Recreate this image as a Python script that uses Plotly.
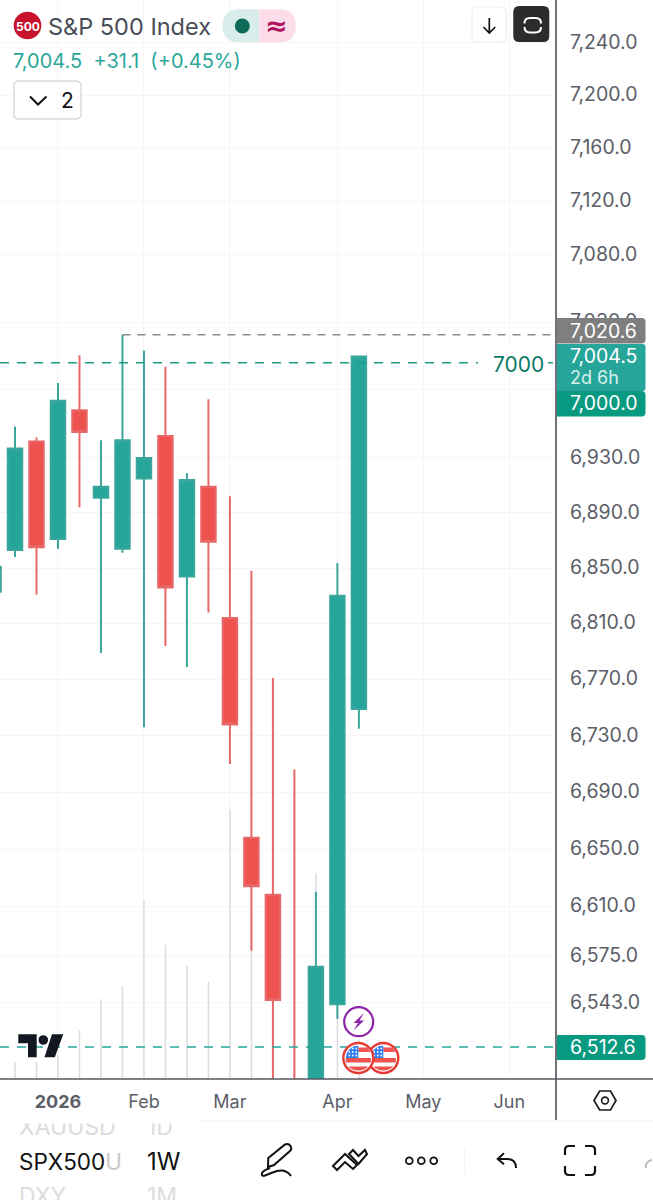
import math
import re
import plotly.graph_objects as go

# ---- data ----
week_start = ["2025-12-15", "2025-12-22", "2025-12-29", "2026-01-05", "2026-01-12", "2026-01-19",
              "2026-01-26", "2026-02-02", "2026-02-09", "2026-02-16", "2026-02-23", "2026-03-02",
              "2026-03-09", "2026-03-16", "2026-03-23", "2026-03-30", "2026-04-06", "2026-04-13"]
opens = [6833, 6863, 6942, 6871, 6965, 6901, 6864, 6915, 6946, 6844, 6909, 6814, 6658, 6618, 6480, 6370, 6542, 6749]
highs = [6870, 6953, 6945, 6985, 7005.5, 6943, 7020.6, 7009, 6997, 6919, 6973, 6902, 6848, 6771, 6706, 6620, 6853.6, 7005]
lows = [6810, 6858, 6831, 6864, 6894, 6789, 6861, 6736, 6794, 6779, 6818, 6710, 6579, 6460, 6345, 6350, 6532, 6735]
closes = [6851, 6937, 6865, 6972, 6949, 6909, 6943, 6930, 6836, 6914, 6869, 6738, 6624, 6545, 6370, 6568, 6830, 7004.5]
volumes = [0.5, 0.95, 0.95, 1.25, 2.7, 4.45, 5.2, 9.95, 7.45, 6.3, 5.4, 15.0, 10.0, 16.0, 16.0, 11.45, 8.3, 2.2]

price_ticks = [7240, 7200, 7160, 7120, 7080, 7030, 6980, 6930, 6890, 6850, 6810, 6770, 6730, 6690, 6650, 6610, 6575, 6543]
price_tick_labels = ["7,240.0", "7,200.0", "7,160.0", "7,120.0", "7,080.0", "7,030.0", "", "6,930.0", "6,890.0",
                     "6,850.0", "6,810.0", "6,770.0", "6,730.0", "6,690.0", "6,650.0", "6,610.0", "6,575.0", "6,543.0"]
time_ticks = ["2026-01-05", "2026-02-02", "2026-03-02", "2026-04-06", "2026-05-04", "2026-06-01"]
time_tick_labels = ["<b>2026</b>", "Feb", "Mar", "Apr", "May", "Jun"]

level_alert = 7000.0
level_high = 7020.6
level_low = 6512.6
high_week = "2026-01-26"

x_range = ["2025-12-17 02:44", "2026-06-16 04:48"]
price_range = [6490.7, 7272.9]
volume_range = [0, 60]

W, H = 653, 1200
AX_X, AX_Y = 556, 1079
FONT = "Inter"
GREY = "#5b5e68"
TEAL = "#26a69a"
RED = "#ef5350"

shapes = []
annotations = []


def fx(x):
    return x / W


def fy(y):
    return 1 - y / H


def conv(path):
    out, is_x = [], True
    for tok in re.findall(r"[MLCQZ]|-?[\d.]+", path):
        if tok in "MLCQZ":
            out.append(tok)
            is_x = True
        else:
            v = float(tok)
            out.append(f"{fx(v):.5f}" if is_x else f"{fy(v):.5f}")
            is_x = not is_x
    return " ".join(out)


def path(p, stroke=None, width=0, fill=None):
    s = dict(type="path", xref="paper", yref="paper", path=conv(p), layer="above",
             fillcolor=fill if fill else "rgba(0,0,0,0)",
             line=dict(color=stroke if stroke else "rgba(0,0,0,0)", width=width))
    shapes.append(s)


def circle(cx, cy, r, stroke=None, width=0, fill=None):
    shapes.append(dict(type="circle", xref="paper", yref="paper", layer="above",
                       x0=fx(cx - r), x1=fx(cx + r), y0=fy(cy + r), y1=fy(cy - r),
                       fillcolor=fill if fill else "rgba(0,0,0,0)",
                       line=dict(color=stroke if stroke else "rgba(0,0,0,0)", width=width)))


def rrect(x0, y0, x1, y1, r=0, rl=None, rr=None):
    rl = r if rl is None else rl
    rr = r if rr is None else rr
    return (f"M {x0 + rl} {y0} L {x1 - rr} {y0} Q {x1} {y0} {x1} {y0 + rr} L {x1} {y1 - rr} "
            f"Q {x1} {y1} {x1 - rr} {y1} L {x0 + rl} {y1} Q {x0} {y1} {x0} {y1 - rl} L {x0} {y0 + rl} "
            f"Q {x0} {y0} {x0 + rl} {y0} Z")


def text(x, y, s, size, color, anchor="left", family=FONT):
    annotations.append(dict(xref="paper", yref="paper", x=fx(x), y=fy(y), text=s, showarrow=False,
                            xanchor=anchor, yanchor="middle", align=anchor,
                            font=dict(size=size, color=color, family=family), borderpad=0, borderwidth=0))


# ---- price tags on the right-hand scale ----
path(rrect(478, 350, 548, 376), fill="#ffffff")
text(544, 364, "7000", 21, "#0d7a66", "right")

path(rrect(557, 318, 645.5, 343.5, rl=0, rr=4), fill="#7f7f7f")
path(rrect(557, 344, 645.5, 391, rl=0, rr=3), fill=TEAL)
path(rrect(557, 391, 645.5, 416.5, rl=0, rr=4), fill="#089981")
path(rrect(557, 1035, 645.5, 1060, rl=0, rr=4), fill="#089981")
text(570, 330.5, "7,020.6", 19.5, "#ffffff")
text(570, 356, "7,004.5", 19.5, "#ffffff")
text(570, 377, "2d 6h", 18, "#d6f0ec")
text(570, 403, "7,000.0", 19.5, "#ffffff")
text(570, 1047, "6,512.6", 19.5, "#ffffff")

# ---- frame lines ----
path(f"M {AX_X} 0 L {AX_X} 1120", stroke="#4c4e57", width=1.6)
path(f"M 0 {AX_Y} L {W} {AX_Y}", stroke="#55575f", width=1.6)

# ---- header ----
circle(27.5, 25.5, 13.8, fill="#c8132f")
text(27.5, 26, "<b>500</b>", 12, "#ffffff", "center")
text(48, 26, "S&amp;P 500 Index", 23.5, "#4a4d57")
path(rrect(222.7, 9.3, 259.3, 42.3, rl=16.5, rr=0), fill="#d8ecea")
path(rrect(259.3, 9.3, 295.7, 42.3, rl=0, rr=16.5), fill="#fcdce8")
circle(242.3, 26, 7.5, fill="#0e6b58")
text(276, 25, "<b>≈</b>", 27, "#b0125f", "center", "DejaVu Sans")
text(13, 61, "7,004.5  +31.1  (+0.45%)", 20, "#2ba79b")
path(rrect(14, 81, 81, 119, 5), stroke="#dcdcdc", width=1.5, fill="#ffffff")
path("M 30 96.5 L 38 104.5 L 46.5 96.5", stroke="#111111", width=2)
text(67.5, 100, "2", 21, "#111111", "center")

# ---- top-right buttons ----
path(rrect(472, 7, 506.5, 42, 6), stroke="#efefef", width=1.2, fill="#ffffff")
path("M 489.3 18 L 489.3 32.5 M 483.5 27 L 489.3 33 L 495.2 27", stroke="#111111", width=1.7)
path(rrect(513.3, 6, 549.3, 42, 6), fill="#2c2c2c")
path("M 524.5 23.5 Q 524.5 18 530 18 L 535.5 18 Q 541 18 541 23.5", stroke="#ffffff", width=2)
path("M 524.5 27 Q 524.5 32.5 530 32.5 L 535.5 32.5 Q 541 32.5 541 27", stroke="#ffffff", width=2)

# ---- TradingView mark ----
logo = "#131722"
path("M 18.3 1034.3 L 36.7 1034.3 L 36.7 1057.3 L 28 1057.3 L 28 1043.3 L 18.3 1043.3 Z", fill=logo)
circle(43.3, 1040, 4.8, fill=logo)
path("M 52 1034.3 L 63.3 1034.3 L 54.8 1057.3 L 44.5 1057.3 Z", fill=logo)

# ---- chart event markers ----
circle(358.7, 1021.7, 14.5, stroke="#8e24aa", width=2.2, fill="#ffffff")
path("M 364 1013 L 353.5 1023 L 358 1023 L 353.5 1030.5 L 364 1020.5 L 359.5 1020.5 Z", fill="#8e24aa")


def flag(cx, cy):
    circle(cx, cy, 15, stroke="#e53935", width=2.4, fill="#ffffff")
    red = "#ef5350"
    path(f"M {cx} {cy - 10.5} L {cx + 9} {cy - 10.5} Q {cx + 11} {cy - 8} {cx + 12} {cy - 6} L {cx} {cy - 6} Z", fill=red)
    path(f"M {cx - 12.5} {cy} L {cx + 12.5} {cy} Q {cx + 12.8} {cy + 2} {cx + 12.5} {cy + 4.5} L {cx - 12.5} {cy + 4.5} Q {cx - 12.8} {cy + 2} {cx - 12.5} {cy} Z", fill=red)
    path(f"M {cx - 10} {cy + 8.5} L {cx + 10} {cy + 8.5} Q {cx + 6} {cy + 12.5} {cx} {cy + 12.5} Q {cx - 6} {cy + 12.5} {cx - 10} {cy + 8.5} Z", fill=red)
    path(f"M {cx - 12.5} {cy} Q {cx - 12.5} {cy - 8} {cx - 4} {cy - 12} L {cx} {cy - 12.3} L {cx} {cy} Z", fill="#2f80ed")
    for dx in (-9, -5.5, -2):
        for dy in (-2.5, -6):
            circle(cx + dx, cy + dy, 0.9, fill="#ffffff")
    circle(cx - 5.5, cy - 9.5, 0.9, fill="#ffffff")
    circle(cx - 2, cy - 9.5, 0.9, fill="#ffffff")


flag(383.3, 1058)
flag(358.3, 1058)

# ---- settings hexagon ----
path("M 594 1100.5 L 599.7 1091 L 610.5 1091 L 616 1100.5 L 610.5 1110 L 599.7 1110 Z", stroke="#1a1a1a", width=1.7)
circle(605, 1100.5, 3.4, stroke="#1a1a1a", width=1.6)

# ---- bottom toolbar ----
text(19, 1127, "XAUUSD", 23, "#dcdcdc")
text(147, 1127, "1D", 23, "#dcdcdc")
annotations.append(dict(xref="paper", yref="paper", x=fx(100), y=fy(1116.5), text=" ", showarrow=False,
                        width=200, height=10, bgcolor="#ffffff", xanchor="center", yanchor="middle",
                        font=dict(size=8)))
path(f"M 0 1121 L {W} 1121", stroke="#f1f1f1", width=1)
text(19, 1161, 'SPX500<span style="color:#c9c9c9">U</span>', 22.5, "#111111")
text(147, 1161, "1W", 24, "#111111")
text(19, 1196, "DXY", 23, "#dcdcdc")
text(147, 1196, "1M", 23, "#dcdcdc")

ink = "#111111"
path("M 268.3 1158 L 285 1144.5 Q 289 1143 291 1147 Q 291.8 1149.5 290 1151 L 274 1165 L 268 1167 Z", stroke=ink, width=2)
path("M 270 1168 Q 264 1170 262 1173 Q 261 1176.5 265 1175.5 Q 271 1173 277 1171 Q 286 1169 291 1176", stroke=ink, width=2)
path("M 333 1166 L 345 1154 L 357 1165 L 353 1169 L 345 1162 L 337 1170 Z", stroke=ink, width=2)
path("M 349 1154 L 353 1150 L 358.5 1156 L 365 1150 L 367 1154 L 358.5 1164 Z", stroke=ink, width=2)
circle(409.3, 1160.7, 3.4, stroke=ink, width=1.8)
circle(421.3, 1160.7, 3.4, stroke=ink, width=1.8)
circle(433.7, 1160.7, 3.4, stroke=ink, width=1.8)
path("M 464.3 1148 L 464.3 1173", stroke="#f0f0f0", width=1)
path("M 504 1153.3 L 497.7 1159 L 504 1164.3 M 498 1159 L 507 1159 Q 516 1159 516 1168", stroke=ink, width=2)
path("M 565 1155 L 565 1150 Q 565 1146 569 1146 L 575 1146", stroke=ink, width=2.2)
path("M 585 1146 L 591 1146 Q 595 1146 595 1150 L 595 1155", stroke=ink, width=2.2)
path("M 565 1166 L 565 1171 Q 565 1175 569 1175 L 575 1175", stroke=ink, width=2.2)
path("M 585 1175 L 591 1175 Q 595 1175 595 1171 L 595 1166", stroke=ink, width=2.2)
path("M 645.5 1168 Q 645.5 1161 652 1160", stroke="#bbbbbb", width=1.8)

# ---- traces ----
fig = go.Figure()
fig.add_trace(go.Bar(x=week_start, y=volumes, width=42000000, marker=dict(color="#dcdcdc", line=dict(width=0)),
                     xaxis="x", yaxis="y", hoverinfo="skip"))
fig.add_trace(go.Candlestick(x=week_start, open=opens, high=highs, low=lows, close=closes,
                             increasing=dict(line=dict(color="#3ba69b", width=2), fillcolor=TEAL),
                             decreasing=dict(line=dict(color="#e8686a", width=2), fillcolor=RED),
                             whiskerwidth=0, xaxis="x", yaxis="y2", hoverinfo="skip"))
fig.add_trace(go.Scatter(x=x_range, y=[level_alert, level_alert], mode="lines", xaxis="x", yaxis="y2",
                         line=dict(color="#1a9a87", width=1.5, dash="9px,8px"), hoverinfo="skip"))
fig.add_trace(go.Scatter(x=[high_week, x_range[1]], y=[level_high, level_high], mode="lines", xaxis="x", yaxis="y2",
                         line=dict(color="#8a8a8a", width=1.5, dash="8px,7px"), hoverinfo="skip"))
fig.add_trace(go.Scatter(x=x_range, y=[level_low, level_low], mode="lines", xaxis="x", yaxis="y2",
                         line=dict(color=TEAL, width=1.5, dash="9px,8px"), hoverinfo="skip"))

fig.update_layout(
    width=W, height=H, margin=dict(l=0, r=0, t=0, b=0, pad=0),
    paper_bgcolor="#ffffff", plot_bgcolor="#ffffff", showlegend=False, hovermode=False,
    dragmode=False, boxgap=0.326, boxgroupgap=0, shapes=shapes, annotations=annotations,
    xaxis=dict(domain=[0, AX_X / W], type="date", range=x_range, rangeslider=dict(visible=False),
               tickmode="array", tickvals=time_ticks, ticktext=time_tick_labels, ticks="outside",
               ticklen=6, tickcolor="rgba(0,0,0,0)", showgrid=True, gridcolor="#f6f6f6", gridwidth=1,
               zeroline=False, showline=False, automargin=False, anchor="y",
               tickfont=dict(family=FONT, size=18, color=GREY)),
    yaxis=dict(domain=[(H - AX_Y) / H, 1], range=volume_range, visible=False, fixedrange=True),
    yaxis2=dict(overlaying="y", side="right", type="log", anchor="x",
                range=[math.log10(price_range[0]), math.log10(price_range[1])],
                tickmode="array", tickvals=price_ticks, ticktext=price_tick_labels, ticks="outside",
                ticklen=9, tickcolor="rgba(0,0,0,0)", showgrid=True, gridcolor="#f6f6f6", gridwidth=1,
                zeroline=False, showline=False, automargin=False, ticklabelshift=-1,
                tickfont=dict(family=FONT, size=19.5, color=GREY)),
)

fig.write_html("out.html", config=dict(displayModeBar=False, staticPlot=True),
               post_script="document.body.style.margin='0';")
